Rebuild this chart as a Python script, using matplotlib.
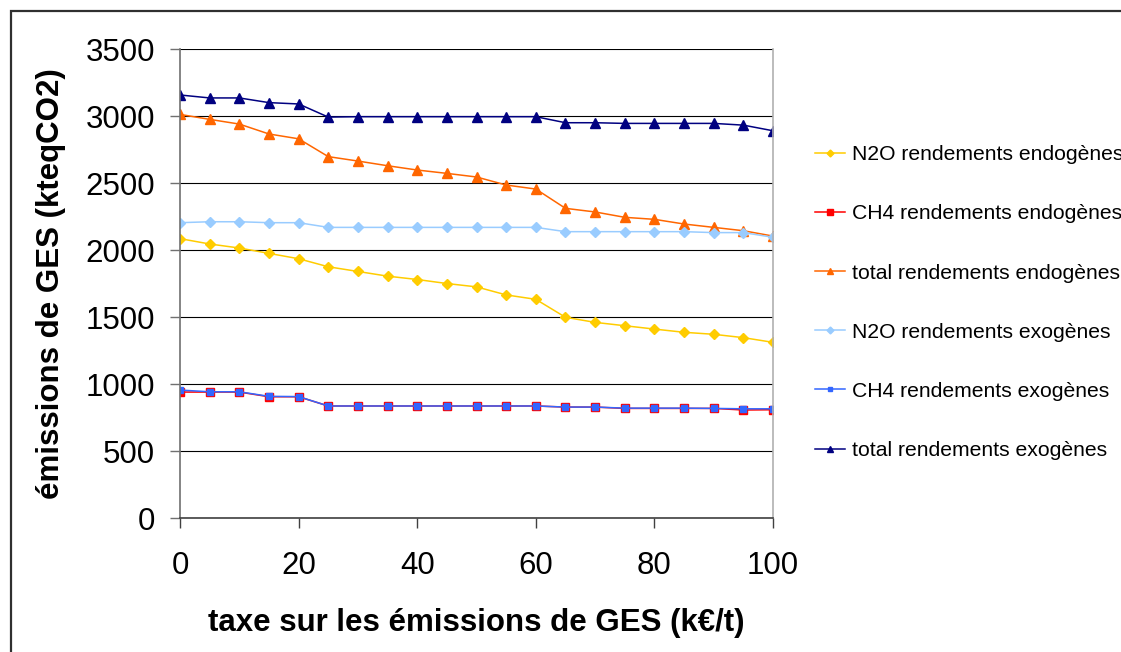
import matplotlib.pyplot as plt
import numpy as np
from matplotlib.patches import Rectangle

plt.rcParams['font.family'] = ['Liberation Sans', 'DejaVu Sans']

# taxe (k€/t)
taxe = [0, 5, 10, 15, 20, 25, 30, 35, 40, 45, 50, 55, 60, 65, 70, 75, 80, 85, 90, 95, 100]

# emissions (kteqCO2)
n2o_endo = [2085, 2045, 2015, 1975, 1935, 1875, 1840, 1805, 1780, 1750, 1725,
            1665, 1632, 1498, 1460, 1435, 1410, 1386, 1371, 1346, 1311]
ch4_endo = [940, 940, 940, 905, 905, 836, 836, 836, 836, 836, 836,
            836, 836, 828, 828, 818, 818, 818, 818, 806, 808]
total_endo = [3012, 2975, 2940, 2866, 2830, 2697, 2664, 2629, 2597, 2572, 2545,
              2485, 2455, 2311, 2284, 2244, 2229, 2194, 2169, 2144, 2104]
n2o_exo = [2204, 2211, 2211, 2204, 2204, 2169, 2169, 2169, 2169, 2169, 2169,
           2169, 2169, 2137, 2137, 2137, 2137, 2137, 2130, 2130, 2095]
ch4_exo = [955, 942, 942, 908, 906, 836, 836, 836, 836, 836, 836,
           836, 836, 828, 828, 820, 820, 820, 818, 815, 815]
total_exo = [3157, 3135, 3135, 3100, 3090, 2992, 2995, 2995, 2995, 2995, 2995,
             2995, 2995, 2950, 2950, 2945, 2945, 2945, 2945, 2932, 2890]

fig = plt.figure(figsize=(11.21, 6.52), dpi=100)
ax = fig.add_axes([0.1606, 0.2055, 0.5290, 0.7193])

lw = 1.1
ax.plot(taxe, n2o_endo, color='#FFCC00', marker='D', ms=5, lw=lw, label='N2O rendements endogènes')
ax.plot(taxe, ch4_endo, color='#FF0000', marker='s', ms=6, lw=lw, label='CH4 rendements endogènes')
ax.plot(taxe, total_endo, color='#FF6600', marker='^', ms=7, lw=lw, label='total rendements endogènes')
ax.plot(taxe, n2o_exo, color='#99CCFF', marker='D', ms=5, lw=lw, label='N2O rendements exogènes')
ax.plot(taxe, ch4_exo, color='#3366FF', marker='s', ms=4, lw=lw, label='CH4 rendements exogènes')
ax.plot(taxe, total_exo, color='#000080', marker='^', ms=7, lw=lw, label='total rendements exogènes')

ax.set_xlim(0, 100)
ax.set_ylim(0, 3500)
ax.set_xticks(np.arange(0, 101, 20))
ax.set_yticks(np.arange(0, 3501, 500))
ax.yaxis.grid(True, color='#000000', lw=0.8)
ax.set_axisbelow(True)

ax.spines['top'].set_visible(False)
ax.spines['left'].set_color('#707070')
ax.spines['bottom'].set_color('#404040')
ax.spines['right'].set_color('#b0b0b0')
for s in ['left', 'bottom', 'right']:
    ax.spines[s].set_linewidth(1.2)

ax.tick_params(axis='y', direction='out', length=7, width=1, color='#707070', pad=11, labelsize=22.5)
ax.tick_params(axis='x', direction='out', length=7, width=1, color='#404040', pad=17, labelsize=22.5)

ax.set_xlabel('taxe sur les émissions de GES (k€/t)', fontsize=22.5, fontweight='bold', labelpad=19)
ax.set_ylabel('émissions de GES (kteqCO2)', fontsize=22.5, fontweight='bold', labelpad=14)

# legend runs past the right edge, as in the original
fig.legend(loc='upper left', bbox_to_anchor=(0.7196, 0.790), frameon=False,
           fontsize=15.2, labelspacing=1.9, handlelength=1.43, handletextpad=0.33,
           markerscale=0.7, borderaxespad=0)

# outer frame
fig.patches.append(Rectangle((0.0098, -0.1), 1.2, 1.083, transform=fig.transFigure,
                             fill=False, edgecolor='#303030', lw=1.6, clip_on=False))

fig.savefig('out.png', dpi=100)
